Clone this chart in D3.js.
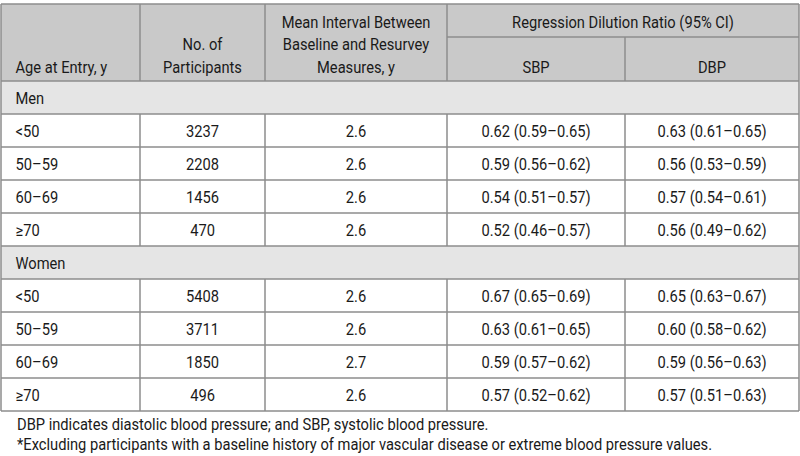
<!DOCTYPE html>
<html><head><meta charset="utf-8">
<script src="https://cdn.jsdelivr.net/npm/d3@7"></script>
<style>
html,body{margin:0;padding:0;background:#fff;}
svg text{font-family:Roboto,"DejaVu Sans Condensed",sans-serif;fill:#1a1a1a;}
</style></head>
<body><svg id="c" width="800" height="456"></svg>
<script>
const headers = ["Age at Entry, y", "No. of\nParticipants", "Mean Interval Between\nBaseline and Resurvey\nMeasures, y", "SBP", "DBP"];
const groupHeader = "Regression Dilution Ratio (95% CI)";
const groups = ["Men", "Women"];
const ages = ["<50", "50–59", "60–69", "≥70"];
const participants = [[3237, 2208, 1456, 470], [5408, 3711, 1850, 496]];
const intervals = [[2.6, 2.6, 2.6, 2.6], [2.6, 2.6, 2.7, 2.6]];
const sbp = [["0.62 (0.59–0.65)", "0.59 (0.56–0.62)", "0.54 (0.51–0.57)", "0.52 (0.46–0.57)"],
             ["0.67 (0.65–0.69)", "0.63 (0.61–0.65)", "0.59 (0.57–0.62)", "0.57 (0.52–0.62)"]];
const dbp = [["0.63 (0.61–0.65)", "0.56 (0.53–0.59)", "0.57 (0.54–0.61)", "0.56 (0.49–0.62)"],
             ["0.65 (0.63–0.67)", "0.60 (0.58–0.62)", "0.59 (0.56–0.63)", "0.57 (0.51–0.63)"]];
const footnotes = ["DBP indicates diastolic blood pressure; and SBP, systolic blood pressure.",
  "*Excluding participants with a baseline history of major vascular disease or extreme blood pressure values."];

(function(){
const svg = d3.select("#c");
const colEdges = [1, 140, 265, 447, 625, 799];
const x = i => colEdges[i];
const tTop = 4, headMid = 37, headBot = 81, rowH = 33;
const border = "#8c8c8c";
const fs = 16.3;

const probe = svg.append("text").attr("font-size", fs).text(footnotes[1]);
const sx = 695 / probe.node().getComputedTextLength();
probe.remove();

const txt = (tx, ty, s, anchor) => svg.append("text")
  .attr("transform", `translate(${tx},${ty}) scale(${sx},1)`)
  .attr("text-anchor", anchor || "start").attr("font-size", fs).text(s);

const rows = [];
groups.forEach((g, gi) => {
  rows.push({type: "group", label: g});
  ages.forEach((a, ai) => rows.push({type: "data", cells: [a, participants[gi][ai], intervals[gi][ai].toFixed(1), sbp[gi][ai], dbp[gi][ai]]}));
});
const y = d3.scaleLinear().domain([0, rows.length]).range([headBot, headBot + rows.length * rowH]);
const bottom = y(rows.length);

svg.append("rect").attr("x", x(0)).attr("y", tTop).attr("width", x(5) - x(0)).attr("height", headBot - tTop).attr("fill", "#c9c9c9");
rows.forEach((r, i) => {
  if (r.type === "group") svg.append("rect").attr("x", x(0)).attr("y", y(i)).attr("width", x(5) - x(0)).attr("height", rowH).attr("fill", "#e5e5e5");
});

const leftX = 15.5;
const hcx = i => i === 0 ? leftX : (x(i) + x(i + 1)) / 2;
headers.forEach((h, i) => {
  const lines = h.split("\n");
  const lh = 22.3;
  const baseBottom = 72.7;
  lines.forEach((ln, li) => txt(hcx(i), baseBottom - (lines.length - 1 - li) * lh, ln, i === 0 ? "start" : "middle"));
});
txt((x(3) + x(5)) / 2, 28, groupHeader, "middle");

rows.forEach((r, i) => {
  const cy = (y(i) + y(i + 1)) / 2 + 6;
  if (r.type === "group") {
    txt(leftX, cy, r.label);
  } else {
    r.cells.forEach((c, ci) => txt(hcx(ci), cy, c, ci === 0 ? "start" : "middle"));
  }
});

const line = (x1, y1, x2, y2) => svg.append("line").attr("x1", x1).attr("y1", y1).attr("x2", x2).attr("y2", y2).attr("stroke", border).attr("stroke-width", 1.5);
line(x(0), tTop, x(5), tTop);
line(x(0), headBot, x(5), headBot);
line(x(3), headMid, x(5), headMid);
rows.forEach((r, i) => { line(x(0), y(i + 1), x(5), y(i + 1)); });
line(x(0), tTop, x(0), bottom);
line(x(5), tTop, x(5), bottom);
[1, 2, 3].forEach(c => line(x(c), tTop, x(c), headBot));
line(x(4), headMid, x(4), headBot);
rows.forEach((r, i) => {
  if (r.type === "data") [1, 2, 3, 4].forEach(c => line(x(c), y(i), x(c), y(i + 1)));
});

footnotes.forEach((f, i) => txt(17, 429.5 + i * 20, f));
})();
</script></body></html>
